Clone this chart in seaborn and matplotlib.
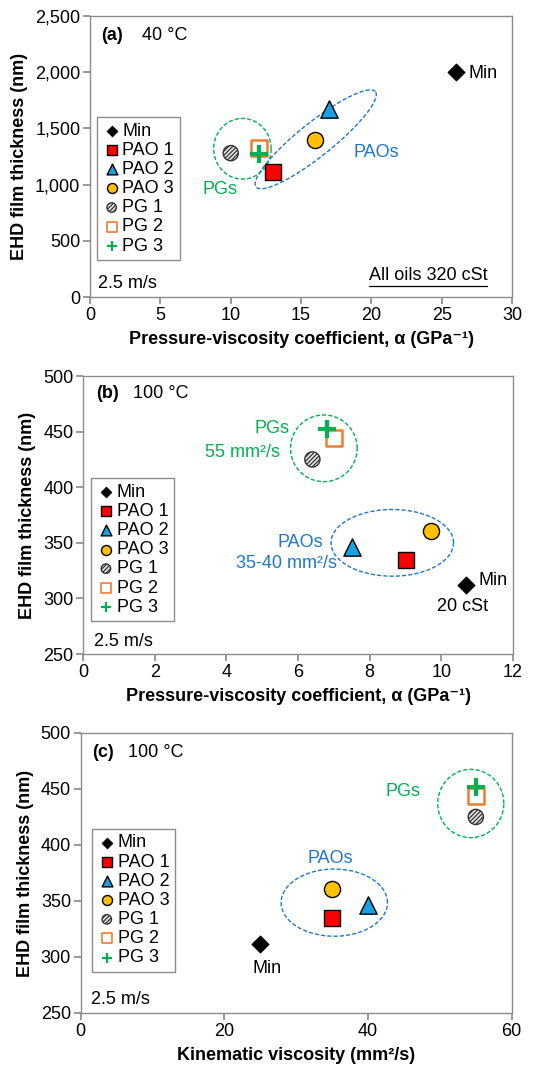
import numpy as np
import seaborn as sns
import matplotlib.pyplot as plt
from matplotlib.ticker import FuncFormatter

# data
oils = ["Min", "PAO 1", "PAO 2", "PAO 3", "PG 1", "PG 2", "PG 3"]
alpha_40 = [26, 13, 17, 16, 10, 12, 12]             # GPa^-1
film_40 = [2000, 1110, 1670, 1400, 1280, 1330, 1270]  # nm
alpha_100 = [10.7, 9.0, 7.5, 9.7, 6.4, 7.0, 6.8]
film_100 = [312, 335, 346, 361, 425, 444, 452]
visc_100 = [25, 35, 40, 35, 55, 55, 55]               # mm2/s

sns.set_theme(style="white")
plt.rcParams["font.family"] = ["Liberation Sans", "DejaVu Sans"]
plt.rcParams["text.color"] = "black"
plt.rcParams["axes.labelcolor"] = "black"
plt.rcParams["hatch.color"] = "#3A3A3A"
plt.rcParams["hatch.linewidth"] = 0.9

GREEN = "#00B050"
BLUE = "#1F77C8"
GRAY = "#8C8C8C"
FS = 13

styles = {
    "Min": dict(marker="D", color="black", edgecolor="black", s=75),
    "PAO 1": dict(marker="s", color="#FF0000", edgecolor="black", s=130, linewidth=1),
    "PAO 2": dict(marker="^", color="#1BA1E2", edgecolor="black", s=155, linewidth=1),
    "PAO 3": dict(marker="o", color="#FFC000", edgecolor="black", s=135, linewidth=1),
    "PG 1": dict(marker="o", color="#E6E6E6", edgecolor="#333333", s=120, linewidth=1,
                 hatch="////////"),
    "PG 2": dict(marker="s", color="white", edgecolor="#ED7D31", s=120, linewidth=1.8),
    "PG 3": dict(marker="+", color=GREEN, s=160, linewidth=3),
}


def ring(ax, cx, cy, u, v, color):
    t = np.linspace(0, 2 * np.pi, 300)
    ax.plot(cx + u[0] * np.cos(t) + v[0] * np.sin(t),
            cy + u[1] * np.cos(t) + v[1] * np.sin(t),
            color=color, lw=1, ls=(0, (3, 1.5)), zorder=1)


def panel(rect, xs, ys, xlim, ylim, xstep, ystep, xlabel, tag, temp, tagpos, leg_anchor):
    ax = fig.add_axes(rect)
    for i, oil in enumerate(oils):
        sns.scatterplot(x=[xs[i]], y=[ys[i]], ax=ax, label=oil, zorder=3, **styles[oil])
    ax.set_xlim(*xlim)
    ax.set_ylim(*ylim)
    ax.set_xticks(np.arange(xlim[0], xlim[1] + 0.01, xstep))
    ax.set_yticks(np.arange(ylim[0], ylim[1] + 0.01, ystep))
    ax.set_xlabel(xlabel, fontsize=FS, fontweight="bold", labelpad=5)
    ax.set_ylabel("EHD film thickness (nm)", fontsize=FS, fontweight="bold", labelpad=5)
    ax.tick_params(labelsize=FS, direction="out", length=5, color=GRAY,
                   labelcolor="black", bottom=True, left=True, pad=2)
    for sp in ax.spines.values():
        sp.set_color(GRAY)
        sp.set_linewidth(1)
    ax.text(tagpos[0], tagpos[1], tag, transform=ax.transAxes, fontsize=FS,
            fontweight="bold", va="center")
    ax.text(tagpos[2], tagpos[1], temp, transform=ax.transAxes, fontsize=FS, va="center")
    ax.text(tagpos[3], tagpos[4], "2.5 m/s", transform=ax.transAxes, fontsize=FS, va="center")
    leg = ax.legend(loc="upper left", bbox_to_anchor=leg_anchor, frameon=True,
                    fancybox=False, edgecolor=GRAY, framealpha=1, markerscale=0.62,
                    scatterpoints=1, handletextpad=0.1, labelspacing=0.12,
                    borderpad=0.3, handlelength=1.0, borderaxespad=0, fontsize=FS)
    leg.get_frame().set_linewidth(1)
    for h, oil in zip(leg.legend_handles, oils):
        if oil == "PG 3":
            h.set_linewidths([1.6])
        elif oil == "PG 2":
            h.set_linewidths([1.2])
    return ax


fig = plt.figure(figsize=(5.54, 10.75), dpi=100)

# (a) 40 C, film vs pressure-viscosity coefficient
ax1 = panel([0.1625, 0.7237, 0.762, 0.2614], alpha_40, film_40, (0, 30), (0, 2500), 5, 500,
            "Pressure-viscosity coefficient, α (GPa⁻¹)", "(a)", "40 °C",
            (0.027, 0.932, 0.122, 0.02, 0.049), (0.017, 0.64))
ax1.yaxis.set_major_formatter(FuncFormatter(lambda v, p: f"{v:,.0f}"))
ring(ax1, 16.04, 1403, (4.24, 424), (-0.75, 118), BLUE)
ring(ax1, 10.83, 1319, (2.04, 0), (0, 270), GREEN)
ax1.text(26.9, 1990, "Min", fontsize=FS, va="center")
ax1.text(18.7, 1290, "PAOs", fontsize=FS, color=BLUE, va="center")
ax1.text(9.25, 960, "PGs", fontsize=FS, color=GREEN, va="center", ha="center")
note = ax1.text(0.941, 0.075, "All oils 320 cSt", transform=ax1.transAxes,
                fontsize=FS, ha="right", va="center")

# (b) 100 C, film vs pressure-viscosity coefficient
ax2 = panel([0.150, 0.3916, 0.776, 0.2586], alpha_100, film_100, (0, 12), (250, 500), 2, 50,
            "Pressure-viscosity coefficient, α (GPa⁻¹)", "(b)", "100 °C",
            (0.031, 0.938, 0.115, 0.025, 0.045), (0.0195, 0.632))
ring(ax2, 6.72, 435, (0.93, 0), (0, 30), GREEN)
ring(ax2, 8.63, 350, (1.71, 0), (0, 30), BLUE)
ax2.text(5.75, 453, "PGs", fontsize=FS, color=GREEN, ha="right", va="center")
ax2.text(5.5, 431, "55 mm²/s", fontsize=FS, color=GREEN, ha="right", va="center")
ax2.text(6.69, 350, "PAOs", fontsize=FS, color=BLUE, ha="right", va="center")
ax2.text(7.09, 331, "35-40 mm²/s", fontsize=FS, color=BLUE, ha="right", va="center")
ax2.text(11.04, 316.5, "Min", fontsize=FS, va="center")
ax2.text(10.6, 293, "20 cSt", fontsize=FS, ha="center", va="center")

# (c) 100 C, film vs kinematic viscosity
ax3 = panel([0.1457, 0.0577, 0.778, 0.2605], visc_100, film_100, (0, 60), (250, 500), 20, 50,
            "Kinematic viscosity (mm²/s)", "(c)", "100 °C",
            (0.0255, 0.929, 0.109, 0.023, 0.0476), (0.027, 0.657))
ring(ax3, 54.3, 437, (4.6, 0), (0, 30.5), GREEN)
ring(ax3, 35.3, 348.5, (7.4, 0), (0, 30), BLUE)
ax3.text(44.8, 448, "PGs", fontsize=FS, color=GREEN, ha="center", va="center")
ax3.text(34.7, 388, "PAOs", fontsize=FS, color=BLUE, ha="center", va="center")
ax3.text(25.9, 290, "Min", fontsize=FS, ha="center", va="center")

# underline for the note in (a)
fig.canvas.draw()
bb = note.get_window_extent().transformed(ax1.transAxes.inverted())
ax1.plot([bb.x0, bb.x1], [bb.y0 - 0.005, bb.y0 - 0.005], color="black", lw=0.9,
         transform=ax1.transAxes, clip_on=False)

fig.savefig("out.png", dpi=100)
